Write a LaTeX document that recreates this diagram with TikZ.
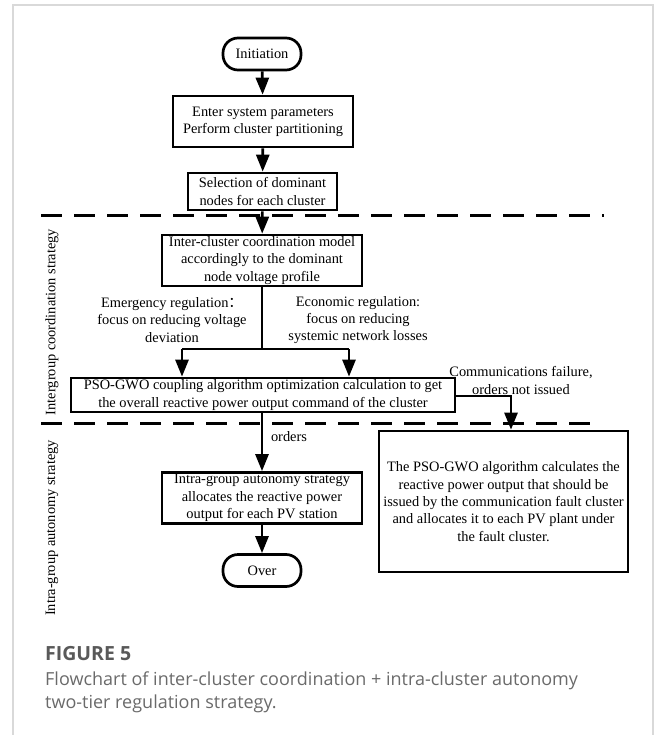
\documentclass[tikz,border=0pt]{standalone}
\usepackage{fontspec}
\setmainfont{Liberation Serif}
\newfontfamily\capfont{Open Sans}
\newfontfamily\cjkfont{Noto Sans CJK SC}
\usetikzlibrary{arrows.meta}

\definecolor{framegray}{HTML}{D9D9D9}
\definecolor{figgray}{HTML}{595959}
\definecolor{capgray}{HTML}{6A6A6A}

\newcommand{\flowfont}{\fontsize{14.4pt}{17.3pt}\selectfont}

\tikzset{
  base/.style={line width=2.7pt, draw=black},
  box/.style={base, rectangle, align=center, inner sep=1pt, font=\flowfont},
  terminal/.style={base, rectangle, rounded corners=15pt, align=center,
                   minimum width=78pt, minimum height=32pt, font=\flowfont},
  plain/.style={align=center, inner sep=0pt, font=\flowfont},
  link/.style={line width=2.7pt, line join=miter},
  arr/.style={link, -{Triangle[width=13pt, length=17pt]}},
  divider/.style={line width=3pt, dash pattern=on 21pt off 12pt},
  frameline/.style={line width=1.5pt, draw=framegray},
}

\begin{document}
\begin{tikzpicture}[x=1pt, y=-1pt]
  \useasboundingbox (0,0) rectangle (656,735);

  % outer figure frame (open at the bottom)
  \draw[frameline] (13,735) -- (13,5) -- (653,5) -- (653,735);

  % flowchart nodes
  \node[terminal] (init) at (262,54) {Initiation};
  \node[box, minimum width=180pt, minimum height=51pt] (enter) at (263,121.5)
    {Enter system parameters\\Perform cluster partitioning};
  \node[box, minimum width=149pt, minimum height=37pt] (select) at (262.5,191.5)
    {Selection of dominant\\nodes for each cluster};
  \node[box, minimum width=200pt, minimum height=51pt] (inter) at (262,260.5)
    {Inter-cluster coordination model\\accordingly to the dominant\\node voltage profile};
  \node[plain] (emerg) at (172,320)
    {Emergency regulation{\cjkfont ：}\\focus on reducing voltage\\deviation};
  \node[plain] (econ) at (358,320)
    {Economic regulation:\\focus on reducing\\systemic network losses};
  \node[box, minimum width=384pt, minimum height=34pt] (pso) at (263,395)
    {PSO-GWO coupling algorithm optimization calculation to get\\the overall reactive power output command of the cluster};
  \node[plain] (comm) at (521,380.5)
    {Communications failure,\\orders not issued};
  \node[plain] (orders) at (289,437) {orders};
  \node[box, minimum width=200pt, minimum height=51pt] (intra) at (262,498)
    {Intra-group autonomy strategy\\allocates the reactive power\\output for each PV station};
  \node[terminal] (over) at (262,570.5) {Over};
  \node[box, minimum width=249pt, minimum height=141pt] (fault) at (503.5,501.5)
    {The PSO-GWO algorithm calculates the\\reactive power output that should be\\issued by the communication fault cluster\\and allocates it to each PV plant under\\the fault cluster.};

  % tier labels
  \node[plain, rotate=90] (tierA) at (52,322) {Intergroup coordination strategy};
  \node[plain, rotate=90] (tierB) at (52,528) {Intra-group autonomy strategy};

  % tier dividers
  \coordinate (d1a) at (41,215.5);
  \coordinate (d1b) at (604,215.5);
  \coordinate (d2a) at (41,423);
  \coordinate (d2b) at (590,423);
  \draw[divider] (d1a) -- (d1b);
  \draw[divider] (d2a) -- (d2b);

  % connectors
  \coordinate (split) at (262,349);
  \coordinate (splitL) at (182,349);
  \coordinate (splitR) at (349,349);
  \coordinate (turn) at (511,396);

  \draw[arr] (init) -- (enter);
  \draw[arr] (enter) -- (select);
  \draw[arr] (select) -- (inter);
  \draw[link] (inter.south) -- (split);
  \draw[link] (splitL) -- (splitR);
  \draw[arr] (splitL) -- (splitL |- pso.north);
  \draw[arr] (splitR) -- (splitR |- pso.north);
  \draw[arr] (pso.east |- turn) -- (turn) -- (turn |- fault.north);
  \draw[arr] (pso.south -| intra.north) -- (intra.north);
  \draw[arr] (intra) -- (over);

  % caption
  \node[anchor=base west, inner sep=0pt, text=figgray,
        font=\capfont\bfseries\fontsize{19.5pt}{22pt}\selectfont] (figno) at (45,660) {FIGURE 5};
  \node[anchor=base west, inner sep=0pt, text=capgray,
        font=\capfont\fontsize{18pt}{22pt}\selectfont] (cap1) at (45,685)
    {Flowchart of inter-cluster coordination + intra-cluster autonomy};
  \node[anchor=base west, inner sep=0pt, text=capgray,
        font=\capfont\fontsize{18pt}{22pt}\selectfont] (cap2) at (45,708)
    {two-tier regulation strategy.};
\end{tikzpicture}
\end{document}
